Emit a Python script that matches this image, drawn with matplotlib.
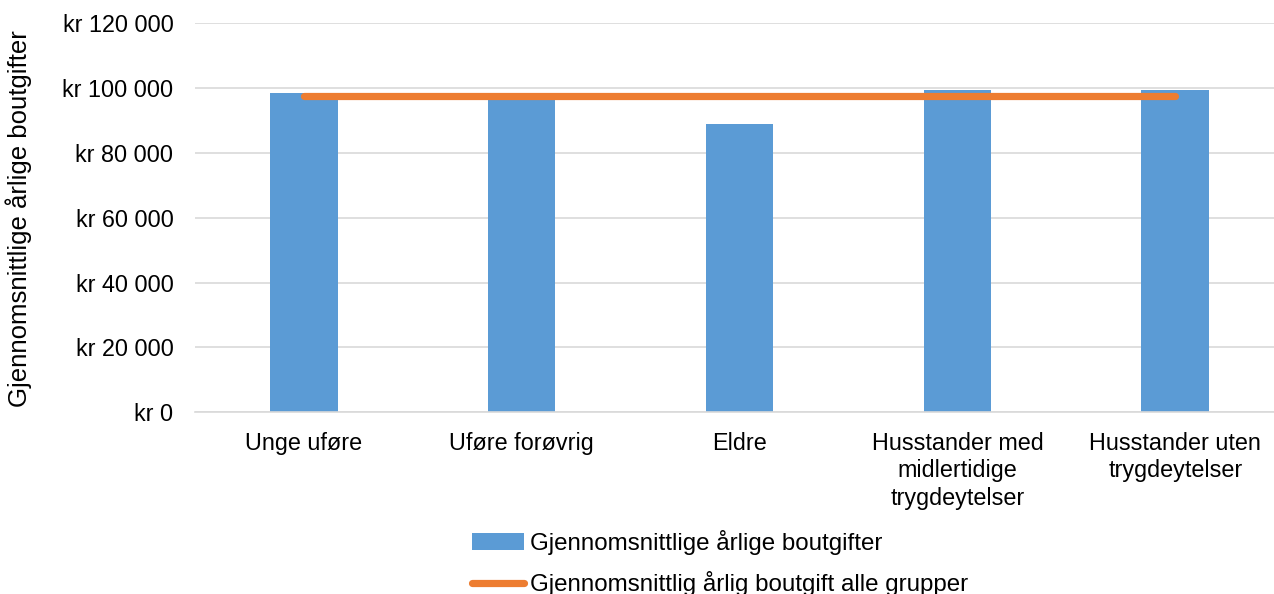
import matplotlib.pyplot as plt
from matplotlib.ticker import FuncFormatter

plt.rcParams['font.family'] = ['Liberation Sans', 'DejaVu Sans']

categories = ['Unge uføre', 'Uføre forøvrig', 'Eldre',
              'Husstander med\nmidlertidige\ntrygdeytelser',
              'Husstander uten\ntrygdeytelser']
boutgifter = [98400, 97000, 88800, 99400, 99400]
snitt_alle = [97600, 97600, 97600, 97600, 97600]

fig = plt.figure(figsize=(12.74, 5.94), dpi=100)
ax = fig.add_axes([0.153, 0.306, 0.855, 0.655])

x = list(range(len(categories)))
bars = ax.bar(x, boutgifter, width=0.31, color='#5B9BD5', zorder=2,
              label='Gjennomsnittlige årlige boutgifter')
line, = ax.plot(x, snitt_alle, color='#ED7D31', linewidth=5.2,
                solid_capstyle='round', zorder=3,
                label='Gjennomsnittlig årlig boutgift alle grupper')

ax.set_xlim(-0.5, len(categories) - 0.5)
ax.set_ylim(0, 120000)
ax.set_yticks(range(0, 120001, 20000))
ax.yaxis.set_major_formatter(FuncFormatter(
    lambda v, p: 'kr ' + f'{int(v):,}'.replace(',', ' ')))
ax.set_xticks(x)
ax.set_xticklabels(categories, fontsize=16.8, linespacing=1.25)
ax.tick_params(axis='y', labelsize=16.8, length=0, pad=15.5)
ax.tick_params(axis='x', length=0, pad=14)

ax.grid(axis='y', color='#d9d9d9', linewidth=1.2, zorder=0)
for s in ['top', 'right', 'left']:
    ax.spines[s].set_visible(False)
ax.spines['bottom'].set_color('#d9d9d9')
ax.spines['bottom'].set_linewidth(1.2)

fig.text(0.015, 0.632, 'Gjennomsnittlige årlige boutgifter', rotation=90,
         ha='center', va='center', fontsize=18.5)

fig.legend(handles=[bars, line], loc='center',
           bbox_to_anchor=(0.565, 0.052), ncol=1,
           frameon=False, fontsize=17.4, handlelength=2.15,
           handletextpad=0.25, labelspacing=0.65, borderpad=0)

fig.savefig('out.png', dpi=100)
